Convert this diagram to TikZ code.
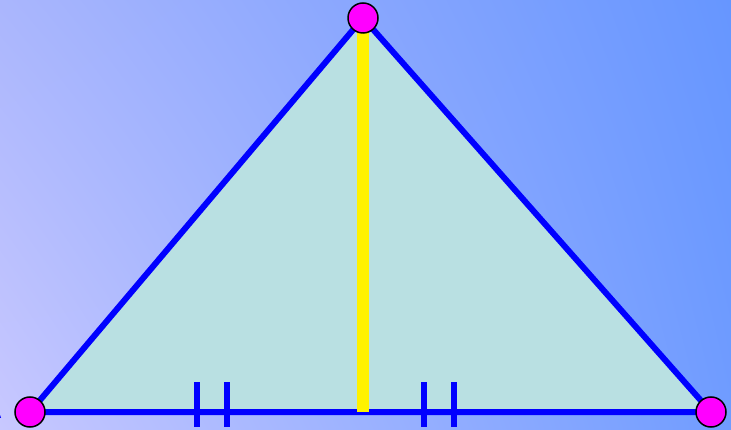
\documentclass[tikz,border=0pt]{standalone}
\usepackage{xcolor}
\definecolor{bglavender}{RGB}{200, 200, 255}
\definecolor{bgtopleft}{RGB}{170, 182, 253}
\definecolor{bgblue}{RGB}{102, 150, 255}
\definecolor{bglowright}{RGB}{112, 156, 255}
\definecolor{trifill}{RGB}{185, 224, 226}
\definecolor{edgeblue}{RGB}{0, 0, 255}
\definecolor{vertexpink}{RGB}{255, 0, 255}
\usepackage{tikz}
\usetikzlibrary{arrows.meta, positioning, calc, shadings}
\tikzset{
    vertex/.style={circle, fill=vertexpink, draw=black, line width=1.5pt, minimum size=30pt, inner sep=0pt},
    tickmark/.style={edgeblue, line width=6pt}
}

\begin{document}
\begin{tikzpicture}[x=1pt, y=-1pt]
    \clip (0,0) rectangle (731,430);
    \useasboundingbox (0,0) rectangle (731,430);
    \shade[upper left=bgtopleft, upper right=bgblue, lower left=bglavender, lower right=bglowright] (0,0) rectangle (731,430);
    \coordinate (A) at (30,412);
    \coordinate (B) at (363,18);
    \coordinate (C) at (711,412);
    \coordinate (H) at (363,412);
    \filldraw[fill=trifill, draw=edgeblue, line width=6pt, line join=round] (A) -- (B) -- (C) -- cycle;
    \draw[yellow, line width=12pt] (B) -- (H);
    \foreach \x in {197, 227, 424, 454}
        \draw[tickmark] (\x,382) -- (\x,427);
    \node[edgeblue, anchor=south east, inner sep=0pt, font=\sffamily\Large] (lblA) at (2,419) {A};
    \node[vertex] (vA) at (A) {};
    \node[vertex] (vB) at (B) {};
    \node[vertex] (vC) at (C) {};
\end{tikzpicture}
\end{document}
